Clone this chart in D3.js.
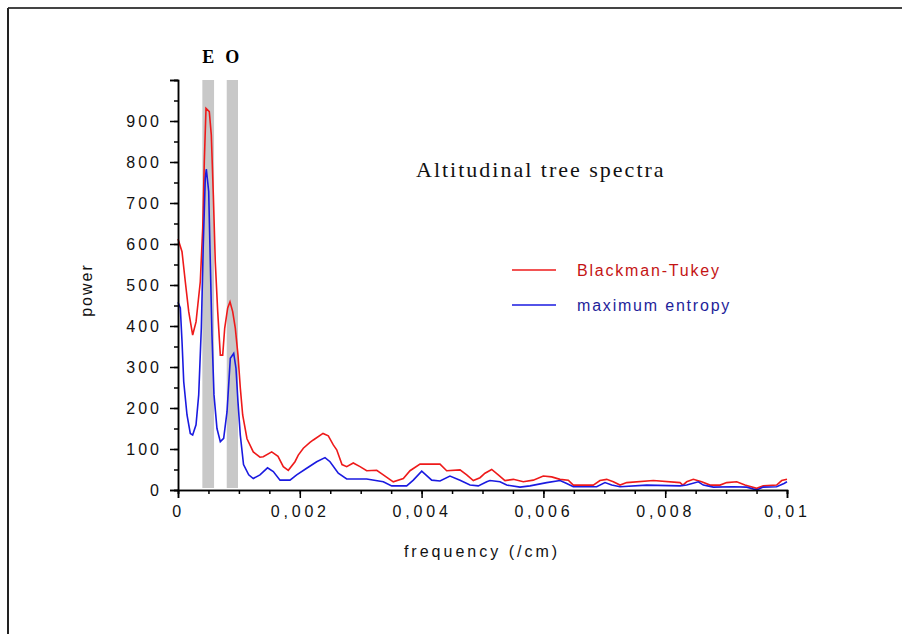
<!DOCTYPE html>
<html>
<head>
<meta charset="utf-8">
<script src="https://cdn.jsdelivr.net/npm/d3@7"></script>
<style>
  html, body { margin: 0; padding: 0; background: #fff; }
  svg text { font-family: Arial, "Liberation Sans", sans-serif; }
</style>
</head>
<body>
<div id="chart"></div>
<script>
// Blackman-Tukey spectrum
const btFreq = [0, 0.000066, 0.00012, 0.000176, 0.000241, 0.000296, 0.000366, 0.000406, 0.000432, 0.00046,
  0.000514, 0.000547, 0.00058, 0.000612, 0.000652, 0.000695, 0.000734, 0.000767, 0.000816, 0.000854,
  0.000898, 0.000941, 0.000985, 0.001023, 0.001062, 0.001133, 0.001236, 0.001346, 0.0014, 0.001539,
  0.001642, 0.001729, 0.001811, 0.001921, 0.001975, 0.002058, 0.002167, 0.002222, 0.002381, 0.002468,
  0.00255, 0.002606, 0.002693, 0.00277, 0.002878, 0.002989, 0.003098, 0.003263, 0.003371, 0.003535,
  0.0037, 0.00381, 0.003974, 0.004302, 0.004412, 0.004631, 0.004741, 0.004849, 0.004959, 0.005041,
  0.005151, 0.005259, 0.005369, 0.005506, 0.00567, 0.005834, 0.005998, 0.006136, 0.006273, 0.006409,
  0.006491, 0.006819, 0.006929, 0.007039, 0.007148, 0.007258, 0.007368, 0.007805, 0.008243, 0.00829,
  0.008353, 0.008462, 0.008599, 0.008736, 0.0089, 0.00901, 0.009174, 0.00931, 0.009502, 0.00961,
  0.00983, 0.009913, 0.01];
const btPower = [612, 581, 508, 435, 378, 410, 508, 639, 801, 931,
  923, 866, 720, 557, 435, 329, 329, 395, 444, 459,
  435, 395, 329, 249, 183, 125, 93, 80, 81, 93,
  82, 57, 48, 69, 85, 102, 116, 122, 138, 132,
  110, 98, 62, 57, 66, 57, 47, 48, 37, 20,
  28, 47, 63, 63, 47, 49, 37, 23, 30, 41,
  50, 37, 23, 26, 20, 24, 34, 32, 26, 24,
  12, 12, 23, 26, 20, 12, 18, 23, 18, 12,
  20, 26, 20, 12, 12, 18, 20, 12, 4, 10,
  12, 23, 26];

// maximum entropy spectrum
const meFreq = [0, 0.000038, 0.000066, 0.000094, 0.000148, 0.000202, 0.000241, 0.000296, 0.00034, 0.000383,
  0.000415, 0.000448, 0.000465, 0.000504, 0.00053, 0.000558, 0.000591, 0.00064, 0.000695, 0.00075,
  0.000805, 0.000859, 0.000915, 0.000952, 0.000985, 0.001023, 0.001076, 0.001161, 0.001236, 0.001346,
  0.00147, 0.001565, 0.001675, 0.001839, 0.001949, 0.002113, 0.002277, 0.002414, 0.002496, 0.002632,
  0.00277, 0.003098, 0.003371, 0.003509, 0.003755, 0.003864, 0.004002, 0.004166, 0.004302, 0.004466,
  0.004631, 0.004795, 0.004931, 0.005069, 0.005123, 0.005287, 0.005397, 0.005616, 0.00578, 0.006054,
  0.006273, 0.006383, 0.006491, 0.006875, 0.007011, 0.007122, 0.007258, 0.007696, 0.008243, 0.008353,
  0.008544, 0.008626, 0.00879, 0.009118, 0.009338, 0.009502, 0.00961, 0.00983, 0.009951, 0.01];
const mePower = [458, 444, 362, 264, 183, 138, 134, 159, 232, 395,
  598, 760, 783, 728, 557, 378, 232, 150, 118, 126,
  191, 321, 333, 297, 215, 134, 62, 37, 28, 37,
  54, 45, 24, 24, 37, 53, 69, 79, 69, 41,
  27, 27, 20, 10, 10, 24, 46, 24, 22, 34,
  24, 12, 10, 20, 23, 20, 12, 7, 10, 18,
  23, 16, 8, 8, 18, 12, 8, 12, 10, 12,
  20, 12, 7, 8, 7, 0, 7, 8, 16, 20];

// shaded bands (E and O)
const bandLabels = ["E", "O"];
const bandStart = [0.0004, 0.0008];
const bandEnd = [0.000592, 0.000985];

const seriesNames = ["Blackman-Tukey", "maximum entropy"];
const yTicks = [0, 100, 200, 300, 400, 500, 600, 700, 800, 900];
const xTicks = [0, 0.002, 0.004, 0.006, 0.008, 0.01];

const W = 902, H = 634;
const margin = {top: 80, left: 178, right: 115, bottom: 144};
const width = W - margin.left - margin.right;   // 609
const height = H - margin.top - margin.bottom;  // 410

const svg = d3.select("#chart").append("svg")
  .attr("width", W).attr("height", H);

// outer frame (top and left edges visible)
svg.append("line").attr("x1", 8).attr("x2", W).attr("y1", 8).attr("y2", 8)
  .attr("stroke", "#444").attr("stroke-width", 2);
svg.append("line").attr("x1", 8).attr("x2", 8).attr("y1", 8).attr("y2", H)
  .attr("stroke", "#222").attr("stroke-width", 2);

const g = svg.append("g").attr("transform", `translate(${margin.left},${margin.top})`);

const xScale = d3.scaleLinear().domain([0, 0.01]).range([0, width]);
const yScale = d3.scaleLinear().domain([0, 1000]).range([height, 0]);

// bands
g.selectAll(".band").data(bandLabels).enter().append("rect")
  .attr("class", "band")
  .attr("x", (d, i) => xScale(bandStart[i]))
  .attr("width", (d, i) => xScale(bandEnd[i]) - xScale(bandStart[i]))
  .attr("y", 0)
  .attr("height", height - 2)
  .attr("fill", "#c8c8c8");

g.selectAll(".bandLabel").data(bandLabels).enter().append("text")
  .attr("class", "bandLabel")
  .attr("x", (d, i) => xScale((bandStart[i] + bandEnd[i]) / 2))
  .attr("y", -17)
  .attr("text-anchor", "middle")
  .style("font-family", "'Liberation Serif', 'Times New Roman', serif")
  .style("font-weight", "bold")
  .style("font-size", "18px")
  .text(d => d);

// lines
const line = d3.line().x(d => xScale(d[0])).y(d => yScale(d[1]));
const btData = btFreq.map((f, i) => [f, btPower[i]]);
const meData = meFreq.map((f, i) => [f, mePower[i]]);

g.append("path").datum(btData).attr("d", line)
  .attr("fill", "none").attr("stroke", "#ee1a1a").attr("stroke-width", 1.6);
g.append("path").datum(meData).attr("d", line)
  .attr("fill", "none").attr("stroke", "#1a1ae0").attr("stroke-width", 1.6);

// axes
const fmtX = d => d === 0 ? "0" : String(+d.toFixed(4)).replace(".", ",");

const xMinor = d3.axisBottom(xScale).tickValues(d3.range(0, 0.01001, 0.0005))
  .tickSize(4).tickFormat("");
const xAxis = d3.axisBottom(xScale).tickValues(xTicks).tickSize(8).tickFormat(fmtX).tickPadding(8);
const yMinor = d3.axisLeft(yScale).tickValues(d3.range(0, 1001, 50)).tickSize(4).tickFormat("");
const yAxis = d3.axisLeft(yScale).tickValues(yTicks.concat([1000])).tickSize(8)
  .tickFormat(d => d === 1000 ? "" : d).tickPadding(8);

function styleAxis(sel, spacing) {
  sel.select(".domain").attr("stroke", "#000").attr("stroke-width", 1.5);
  sel.selectAll(".tick line").attr("stroke", "#000").attr("stroke-width", 1.5);
  sel.selectAll("text").style("font-size", "16px").style("letter-spacing", spacing).attr("fill", "#111");
}

g.append("g").attr("transform", `translate(0,${height})`).call(xMinor).call(styleAxis, "3px");
g.append("g").attr("transform", `translate(0,${height})`).call(xAxis).call(styleAxis, "3.8px");
g.append("g").call(yMinor).call(styleAxis, "3px");
g.append("g").call(yAxis).call(styleAxis, "3px");

// axis titles
svg.append("text")
  .attr("transform", `translate(92,290) rotate(-90)`)
  .attr("text-anchor", "middle")
  .style("font-size", "16px").style("letter-spacing", "2px").attr("fill", "#111")
  .text("power");
svg.append("text")
  .attr("x", 482).attr("y", 557)
  .attr("text-anchor", "middle")
  .style("font-size", "16px").style("letter-spacing", "3px").attr("fill", "#111")
  .text("frequency (/cm)");

// title
svg.append("text")
  .attr("x", 416).attr("y", 177)
  .style("font-family", "'Liberation Serif', 'Times New Roman', serif")
  .style("font-size", "22px").style("letter-spacing", "2px").attr("fill", "#111")
  .text("Altitudinal tree spectra");

// legend
const legColors = ["#ee1a1a", "#1a1ae0"];
const legText = ["#c41414", "#1e1e9a"];
const leg = svg.append("g").attr("transform", "translate(512,270)");
leg.selectAll("line").data(seriesNames).enter().append("line")
  .attr("x1", 0).attr("x2", 44)
  .attr("y1", (d, i) => i * 35).attr("y2", (d, i) => i * 35)
  .attr("stroke", (d, i) => legColors[i]).attr("stroke-width", 1.6);
leg.selectAll("text").data(seriesNames).enter().append("text")
  .attr("x", 65).attr("y", (d, i) => i * 35 + 6)
  .style("font-size", "16px").style("letter-spacing", "1.8px")
  .attr("fill", (d, i) => legText[i])
  .text(d => d);
</script>
</body>
</html>
